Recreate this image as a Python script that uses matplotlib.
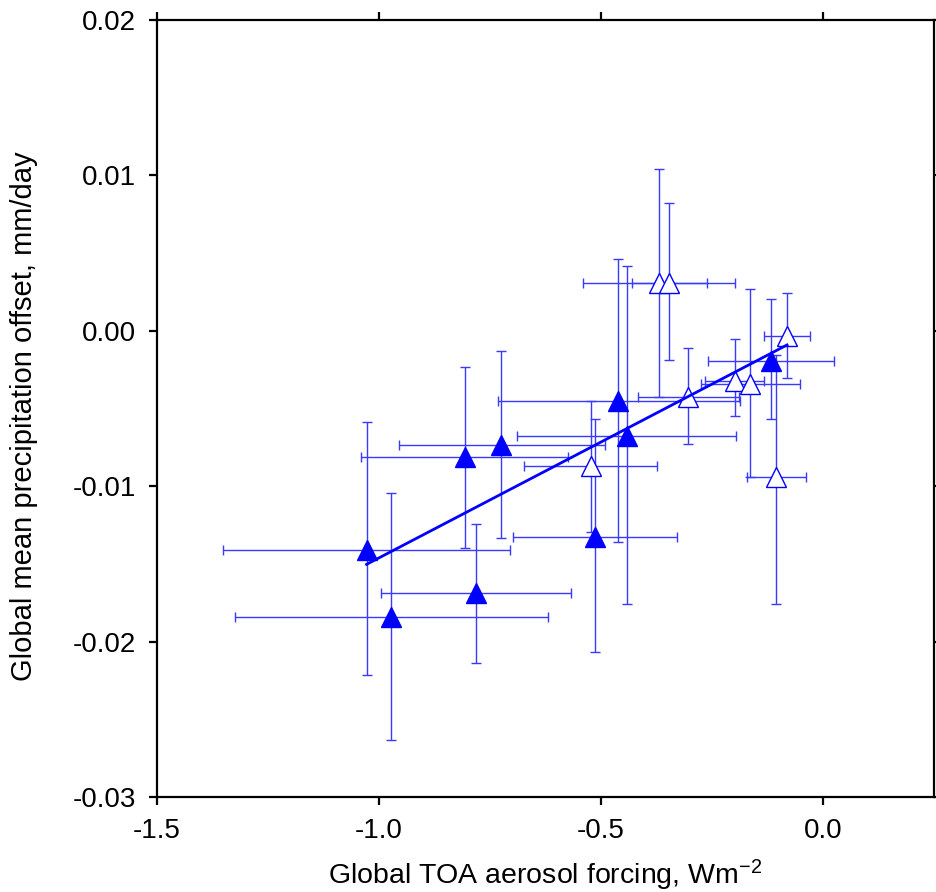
import matplotlib
matplotlib.use("Agg")
import matplotlib.pyplot as plt
import numpy as np

plt.rcParams['font.family'] = ['Liberation Sans', 'DejaVu Sans']
plt.rcParams['axes.unicode_minus'] = False
plt.rcParams['mathtext.default'] = 'regular'

# Filled triangles
f_x = [-1.028, -0.973, -0.807, -0.782, -0.725, -0.514, -0.461, -0.442, -0.117]
f_y = [-0.01411, -0.01842, -0.00815, -0.01690, -0.00738, -0.01327, -0.00452, -0.00677, -0.00194]
f_xlo = [-1.352, -1.324, -1.041, -0.996, -0.956, -0.699, -0.733, -0.689, -0.258]
f_xhi = [-0.704, -0.620, -0.575, -0.567, -0.492, -0.328, -0.187, -0.195, 0.024]
f_ylo = [-0.02217, -0.02631, -0.01396, -0.02138, -0.01331, -0.02069, -0.01357, -0.01756, -0.00570]
f_yhi = [-0.00589, -0.01046, -0.00231, -0.01241, -0.00130, -0.00570, 0.00464, 0.00417, 0.00203]

# Open triangles
o_x = [-0.370, -0.346, -0.523, -0.304, -0.198, -0.164, -0.081, -0.106]
o_y = [0.00306, 0.00306, -0.00873, -0.00429, -0.00321, -0.00342, -0.00032, -0.00943]
o_xlo = [-0.540, -0.430, -0.673, -0.417, -0.266, -0.275, -0.133, -0.172]
o_xhi = [-0.261, -0.198, -0.375, -0.189, -0.133, -0.051, -0.029, -0.038]
o_ylo = [-0.00424, -0.00190, -0.01295, -0.00730, -0.00546, -0.00939, -0.00302, -0.01758]
o_yhi = [0.01043, 0.00824, -0.00452, -0.00113, -0.00055, 0.00267, 0.00241, -0.00156]

# Fitted line end points
fit_x = [-1.028, -0.081]
fit_y = [-0.01503, -0.00091]

xticks = [-1.5, -1.0, -0.5, 0.0]
xticklabels = ['-1.5', '-1.0', '-0.5', '0.0']
yticks = [-0.03, -0.02, -0.01, 0.00, 0.01, 0.02]
yticklabels = ['-0.03', '-0.02', '-0.01', '0.00', '0.01', '0.02']

fig = plt.figure(figsize=(9.37, 8.92), dpi=100)
ax = fig.add_axes([157/937, 1 - 797/892, (934 - 157)/937, (797 - 20)/892])

blue = '#0000ff'
ebc = '#3a3aff'

def draw(x, y, xlo, xhi, ylo, yhi, filled):
    x = np.array(x); y = np.array(y)
    xerr = np.vstack([x - np.array(xlo), np.array(xhi) - x])
    yerr = np.vstack([y - np.array(ylo), np.array(yhi) - y])
    ax.errorbar(x, y, xerr=xerr, yerr=yerr, fmt='none', ecolor=ebc,
                elinewidth=1.0, capsize=3.8, capthick=1.0, zorder=2)
    ax.plot(x, y, linestyle='none', marker='^', markersize=14,
            markerfacecolor=blue if filled else 'white',
            markeredgecolor=blue, markeredgewidth=1.0, zorder=3)

draw(f_x, f_y, f_xlo, f_xhi, f_ylo, f_yhi, True)
draw(o_x, o_y, o_xlo, o_xhi, o_ylo, o_yhi, False)
ax.plot(fit_x, fit_y, color=blue, lw=2.0, zorder=4)

ax.set_xlim(-1.5, 0.25)
ax.set_ylim(-0.03, 0.02)
ax.set_xticks(xticks)
ax.set_xticklabels(xticklabels)
ax.set_yticks(yticks)
ax.set_yticklabels(yticklabels)
for s in ax.spines.values():
    s.set_linewidth(1.6)
ax.tick_params(axis='both', which='both', direction='out', length=6, width=1.6,
               labelsize=20, top=True, right=True, pad=9)
ax.set_xlabel('Global TOA aerosol forcing, Wm$^{-2}$', fontsize=20.5)
ax.set_ylabel('Global mean precipitation offset, mm/day', fontsize=21)
ax.xaxis.set_label_coords(0.5, -0.078)
ax.yaxis.set_label_coords(-0.153, 0.49)

fig.savefig('out.png', dpi=100)
